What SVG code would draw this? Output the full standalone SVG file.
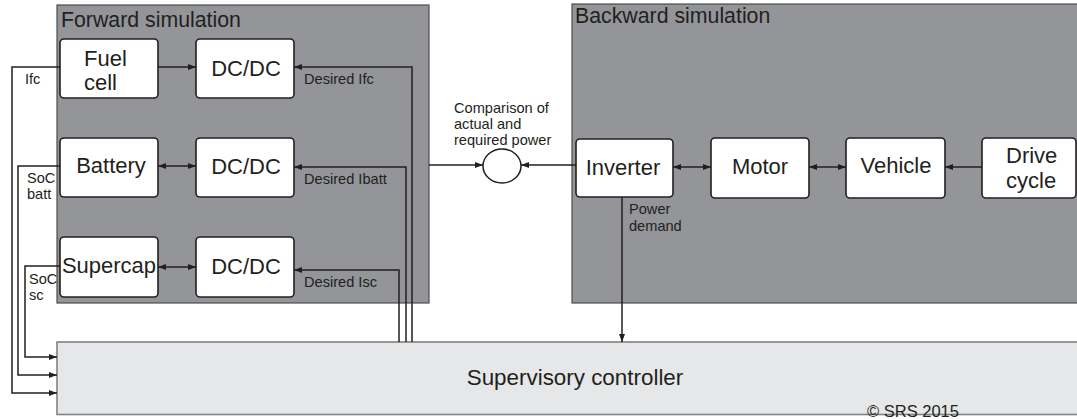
<svg xmlns="http://www.w3.org/2000/svg" width="1077" height="419" viewBox="0 0 1077 419">
<defs>
<marker id="ah" viewBox="0 0 8 6" refX="8" refY="3" markerWidth="8" markerHeight="6" markerUnits="userSpaceOnUse" orient="auto-start-reverse">
<path d="M0,0 L8,3 L0,6 z" fill="#231f20"/>
</marker>
</defs>
<style>
text{font-family:"Liberation Sans",Arial,sans-serif;fill:#231f20}
.panel{fill:#939598;stroke:#4d4d4f;stroke-width:1.2}
.box{fill:#fff;stroke:#231f20;stroke-width:1.6}
.ctrl{fill:#e6e7e8;stroke:#808285;stroke-width:1.6}
.big{font-size:22px}
.title{font-size:21.3px}
.small{font-size:14.6px}
.c{fill:none;stroke:#231f20;stroke-width:1.5}
.e{marker-end:url(#ah)}
.b{marker-start:url(#ah);marker-end:url(#ah)}
</style>
<g id="forward-panel">
<rect class="panel" x="57" y="5" width="372" height="298"/>
<text class="title" x="61" y="27">Forward simulation</text>
</g>
<g id="backward-panel">
<rect class="panel" x="572" y="4" width="510" height="299"/>
<text class="title" x="575" y="23">Backward simulation</text>
</g>
<g id="controller">
<rect class="ctrl" x="57" y="342" width="1030" height="72.5"/>
<text class="big" x="575" y="385" text-anchor="middle" style="font-size:22.4px">Supervisory controller</text>
</g>
<g id="fuelcell">
<rect class="box" x="60" y="39" width="98" height="59" rx="4"/>
<text class="big" x="84" y="66">Fuel</text>
<text class="big" x="84" y="90">cell</text>
</g>
<g id="dcdc1">
<rect class="box" x="196" y="39" width="98" height="59" rx="4"/>
<text class="big" x="246" y="76" text-anchor="middle">DC/DC</text>
</g>
<g id="battery">
<rect class="box" x="60" y="138" width="98" height="59" rx="4"/>
<text class="big" x="111" y="173" text-anchor="middle">Battery</text>
</g>
<g id="dcdc2">
<rect class="box" x="196" y="138" width="98" height="59" rx="4"/>
<text class="big" x="246" y="174" text-anchor="middle">DC/DC</text>
</g>
<g id="supercap">
<rect class="box" x="60" y="237" width="98" height="60" rx="4"/>
<text class="big" x="109" y="273" text-anchor="middle">Supercap</text>
</g>
<g id="dcdc3">
<rect class="box" x="196" y="237" width="98" height="60" rx="4"/>
<text class="big" x="246" y="274" text-anchor="middle">DC/DC</text>
</g>
<g id="comparison">
<ellipse cx="502" cy="166" rx="19" ry="17" fill="#fff" stroke="#231f20" stroke-width="1.5"/>
<text class="small" x="454" y="113">Comparison of</text>
<text class="small" x="454" y="129">actual and</text>
<text class="small" x="454" y="145">required power</text>
</g>
<g id="inverter">
<rect class="box" x="576" y="139" width="97" height="58" rx="4"/>
<text class="big" x="623" y="175" text-anchor="middle">Inverter</text>
</g>
<g id="motor">
<rect class="box" x="711" y="138" width="98" height="60" rx="4"/>
<text class="big" x="760" y="174" text-anchor="middle">Motor</text>
</g>
<g id="vehicle">
<rect class="box" x="846" y="138" width="99" height="60" rx="4"/>
<text class="big" x="896" y="173" text-anchor="middle">Vehicle</text>
</g>
<g id="drivecycle">
<rect class="box" x="982" y="138" width="94" height="60" rx="4"/>
<text class="big" x="1006" y="163">Drive</text>
<text class="big" x="1006" y="188">cycle</text>
</g>
<g id="connectors">
<path class="c e" d="M158,67 H196"/>
<path class="c b" d="M158,166 H196"/>
<path class="c b" d="M158,267 H196"/>
<path class="c e" d="M412,342 V67 H294"/>
<path class="c e" d="M406,342 V167 H294"/>
<path class="c e" d="M399,342 V270 H294"/>
<path class="c e" d="M60,67 H12 V393 H57"/>
<path class="c e" d="M60,166 H18 V375 H57"/>
<path class="c e" d="M60,266 H25 V357 H57"/>
<path class="c e" d="M429,165 H483"/>
<path class="c e" d="M576,165 H521"/>
<path class="c b" d="M673,167 H711"/>
<path class="c b" d="M809,167 H846"/>
<path class="c e" d="M982,167 H945"/>
<path class="c e" d="M622,197 V342"/>
<text class="small" x="25" y="84">Ifc</text>
<text class="small" x="27" y="183">SoC</text>
<text class="small" x="27" y="199">batt</text>
<text class="small" x="29" y="284">SoC</text>
<text class="small" x="29" y="300">sc</text>
<text class="small" x="304" y="84">Desired Ifc</text>
<text class="small" x="304" y="184">Desired Ibatt</text>
<text class="small" x="304" y="287">Desired Isc</text>
<text class="small" x="629" y="214">Power</text>
<text class="small" x="629" y="231">demand</text>
</g>
<text x="867" y="417" style="font-size:16.5px">© SRS 2015</text>
</svg>
